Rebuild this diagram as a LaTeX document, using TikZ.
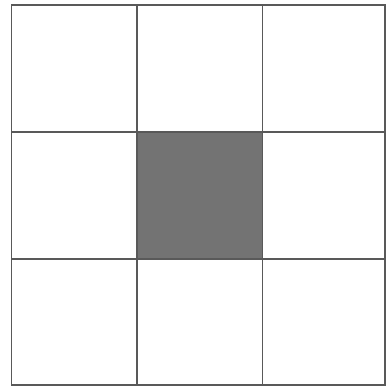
\documentclass[tikz,border=0pt]{standalone}
\begin{document}
\begin{tikzpicture}[x=1pt,y=-1pt,
  gridline/.style={draw=black!65,line width=1.6pt},
  shaded/.style={fill=black!55}]
\useasboundingbox (0,0) rectangle (386,388);
\fill[white] (0,0) rectangle (386,388);
\coordinate (a0) at (11.5,5);
\coordinate (a1) at (137,132);
\coordinate (a2) at (262.5,259);
\coordinate (a3) at (385,385);
\fill[shaded] (a1) rectangle (a2);
\draw[gridline] (a0) rectangle (a3);
\draw[gridline] (a1 |- a0) -- (a1 |- a3);
\draw[gridline] (a2 |- a0) -- (a2 |- a3);
\draw[gridline] (a0 |- a1) -- (a3 |- a1);
\draw[gridline] (a0 |- a2) -- (a3 |- a2);
\end{tikzpicture}
\end{document}
